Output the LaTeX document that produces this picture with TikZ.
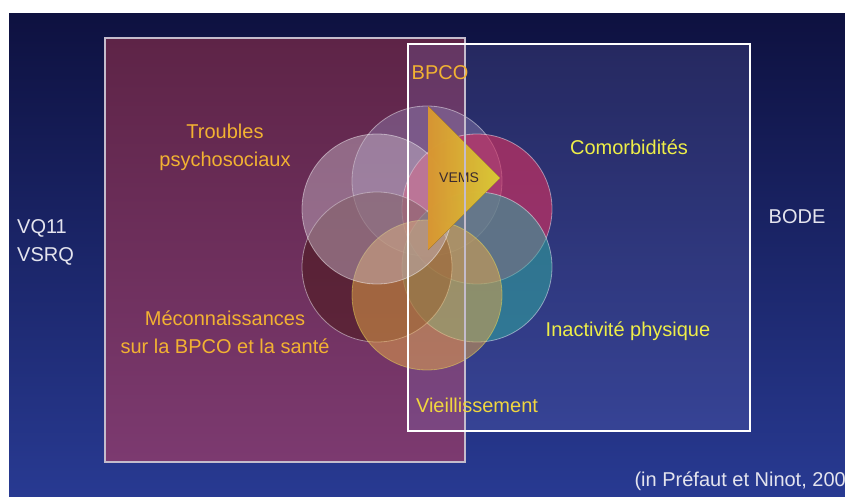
\documentclass[tikz,border=0pt]{standalone}
\usepackage{fontspec}
\setmainfont{Liberation Sans}
\usepackage{tikz}
\usepackage{xcolor}
\definecolor{slidetop}{HTML}{0E1140}
\definecolor{slidebottom}{HTML}{283A92}
\definecolor{plumtop}{HTML}{5E2447}
\definecolor{plumbottom}{HTML}{7C3A70}
\definecolor{boxedge}{HTML}{C4BCCC}
\definecolor{lavender}{HTML}{8080D0}
\definecolor{labelorange}{HTML}{F2B232}
\definecolor{labelyellow}{HTML}{EEEE48}
\definecolor{labelwhite}{HTML}{E4E4EE}
\definecolor{vemstext}{HTML}{3A2A30}
\definecolor{bpcoblue}{HTML}{9080B0}
\definecolor{comorbred}{HTML}{D03060}
\definecolor{activeteal}{HTML}{30A8A0}
\definecolor{knowbrown}{HTML}{4A1818}
\definecolor{ageorange}{HTML}{E8A848}
\definecolor{ageedge}{HTML}{F0E65A}
\definecolor{psychgrey}{HTML}{C8B8C8}
\definecolor{arrowleft}{HTML}{F2A838}
\definecolor{arrowright}{HTML}{F4E43C}
\tikzset{
    outer-box/.style = {draw=white, line width=1.2pt},
    factor-circle/.style = {circle, minimum size=150pt, inner sep=0pt, draw=white, draw opacity=0.45, line width=0.8pt, fill opacity=0.5},
    factor-label/.style = {font=\fontsize{20}{28}\selectfont, align=center, inner sep=0pt},
    score-label/.style = {factor-label, text=labelwhite, align=left},
}

\begin{document}
\begin{tikzpicture}[x=1pt, y=-1pt]
\useasboundingbox (0,0) rectangle (845,497);
% background of the slide
\fill[top color=slidetop, bottom color=slidebottom] (9,14) rectangle (845,497);
\fill[top color=plumtop, bottom color=plumbottom] (105,38) rectangle (465,462);
\fill[lavender, fill opacity=0.2] (408,44) rectangle (750,431);

% the six factors
\node[factor-circle, fill=bpcoblue, fill opacity=0.45] (top-circle) at (427,181) {};
\node[factor-circle, fill=comorbred, fill opacity=0.65] (right-upper-circle) at (477,209) {};
\node[factor-circle, fill=activeteal, fill opacity=0.55] (right-lower-circle) at (477,267) {};
\node[factor-circle, fill=knowbrown, fill opacity=0.55] (left-lower-circle) at (377,267) {};
\node[factor-circle, fill=ageorange, draw=ageedge] (bottom-circle) at (427,295) {};
\node[factor-circle, fill=psychgrey, fill opacity=0.45] (left-upper-circle) at (377,209) {};

\fill[left color=arrowleft, right color=arrowright, fill opacity=0.88] (428,106) -- (500,178) -- (428,250) -- cycle;
\node[font=\fontsize{14}{16}\selectfont, text=vemstext] (vems) at (459,178) {VEMS};

\draw[outer-box, draw=boxedge] (105,38) rectangle (465,462);
\draw[outer-box] (408,44) rectangle (750,431);

% labels
\node[factor-label, text=labelorange] (bpco) at (440,73) {BPCO};
\node[factor-label, text=labelorange] (troubles) at (225,147) {Troubles\\psychosociaux};
\node[factor-label, text=labelyellow] (comorbidites) at (629,147) {Comorbidités};
\node[factor-label, text=labelorange] (meconnaissances) at (225,332) {Méconnaissances\\sur la BPCO et la santé};
\node[factor-label, text=labelyellow] (inactivite) at (628,331) {Inactivité physique};
\node[factor-label, text=labelyellow!60!labelorange] (vieillissement) at (477,405) {Vieillissement};
\node[score-label, anchor=west] (vq11) at (17,242) {VQ11\\VSRQ};
\node[score-label] (bode) at (797,217) {BODE};
\node[score-label, anchor=east] (source) at (846,481) {(in Préfaut et Ninot, 200};
\end{tikzpicture}
\end{document}
